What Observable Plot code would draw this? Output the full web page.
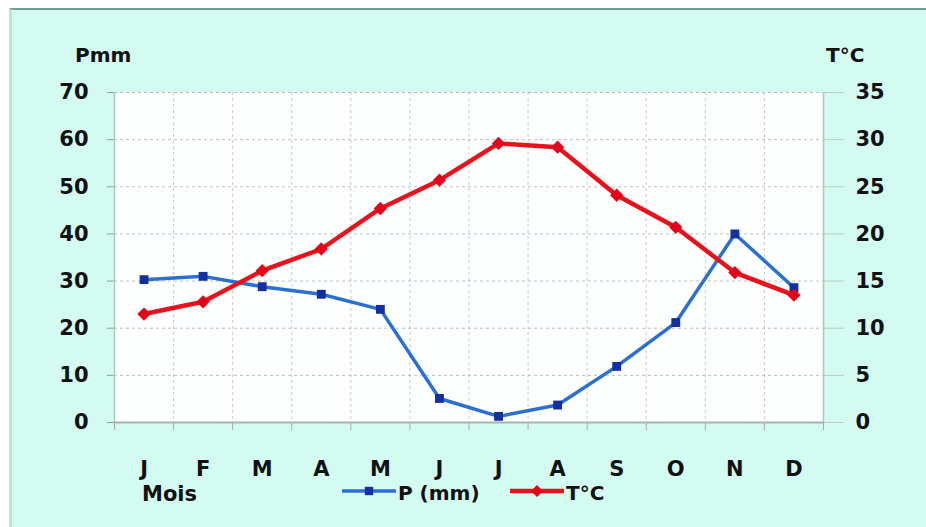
<!DOCTYPE html>
<html>
<head>
<meta charset="utf-8">
<script src="https://cdn.jsdelivr.net/npm/d3@7"></script>
<script src="https://cdn.jsdelivr.net/npm/@observablehq/plot@0.6"></script>
<style>
  body { margin: 0; background: #fff; }
  #wrap { position: relative; width: 926px; height: 527px; overflow: hidden; background: #fff; font-family: "DejaVu Sans", sans-serif; }
  #panel { position: absolute; left: 9px; top: 8px; right: 0; bottom: 0; background: #d3fbf2; border-top: 2px solid #6f9e94; border-left: 3px solid #b5e6db; }
  #chart, #overlay { position: absolute; left: 0; top: 0; }
  #overlay { pointer-events: none; }
</style>
</head>
<body>
<div id="wrap">
  <div id="panel"></div>
  <div id="chart"></div>
  <svg id="overlay" width="926" height="527"></svg>
</div>
<script>
// ---- data ----
const months = ["J","F","M","A","M","J","J","A","S","O","N","D"];
const precip = [30.3, 31.0, 28.8, 27.2, 24.0, 5.1, 1.3, 3.7, 11.9, 21.2, 40.0, 28.6]; // P (mm)
const temp   = [11.5, 12.8, 16.1, 18.4, 22.7, 25.7, 29.6, 29.2, 24.1, 20.7, 15.9, 13.5]; // T °C
const pTicks = [0, 10, 20, 30, 40, 50, 60, 70];
const tTicks = [0, 5, 10, 15, 20, 25, 30, 35];
const ratio = 2; // P = 2T
const seriesNames = ["P (mm)", "T°C"];
const colors = { p: "#2a6fd2", pMark: "#12309e", t: "#e8121c", tMark: "#e3061a" };

const rows = months.map((m, i) => ({ i, m, p: precip[i], t: temp[i] }));
const idx = d3.range(months.length);
const bounds = d3.range(months.length + 1).map(k => k - 0.5);

const font = { fontSize: 21, fontWeight: "bold", fill: "#111" };

const chart = Plot.plot({
  width: 926,
  height: 527,
  marginLeft: 114,
  marginRight: 103,
  marginTop: 92,
  marginBottom: 105,
  style: { background: "transparent", fontFamily: "DejaVu Sans, sans-serif", overflow: "visible" },
  x: { type: "linear", domain: [-0.5, months.length - 0.5] },
  y: { domain: [0, 70] },
  marks: [
    Plot.frame({ fill: "#fdfefe", stroke: "none" }),
    Plot.gridX(bounds.slice(1, -1), { stroke: "#9a9a9a", strokeOpacity: 0.5, strokeDasharray: "3,3" }),
    Plot.gridY(pTicks.slice(1), { stroke: "#8a8a8a", strokeOpacity: 0.55, strokeDasharray: "3,3" }),
    Plot.ruleX([bounds[0], bounds[bounds.length - 1]], { stroke: "#b8c4c0", strokeWidth: 1.5 }),
    Plot.axisY(pTicks, { anchor: "left", tickSize: 7, tickPadding: 19, stroke: "#999", ...font, label: null }),
    Plot.axisY(tTicks.map(t => t * ratio), { anchor: "right", tickSize: 20, tickPadding: 12, stroke: "#aaa", strokeOpacity: 0.6, tickFormat: d => d / ratio, ...font, label: null }),
    Plot.axisX(bounds, { tickSize: 8, stroke: "#aaa", tickFormat: () => "", label: null }),
    Plot.axisX(idx, { tickSize: 0, tickPadding: 39, tickFormat: i => months[i], ...font, label: null }),
    Plot.ruleY([0], { stroke: "#a9b3b0", strokeWidth: 2 }),
    Plot.line(rows, { x: "i", y: "p", stroke: colors.p, strokeWidth: 3.5 }),
    Plot.dot(rows, { x: "i", y: "p", symbol: "square", r: 5, fill: colors.pMark, stroke: "none" }),
    Plot.line(rows, { x: "i", y: d => d.t * ratio, stroke: colors.t, strokeWidth: 4.5 }),
    Plot.dot(rows, { x: "i", y: d => d.t * ratio, symbol: "diamond2", r: 6, fill: colors.tMark, stroke: "none" })
  ]
});
document.getElementById("chart").appendChild(chart);

// ---- titles and legend ----
const ov = d3.select("#overlay").attr("font-family", "DejaVu Sans, sans-serif").attr("font-weight", "bold").attr("fill", "#111");
ov.append("text").attr("x", 75).attr("y", 62).attr("font-size", 20).text("Pmm");
ov.append("text").attr("x", 826).attr("y", 62).attr("font-size", 20).text("T°C");
ov.append("text").attr("x", 142).attr("y", 501).attr("font-size", 21).text("Mois");

const leg = [
  { name: seriesNames[0], x: 342, line: colors.p, mark: colors.pMark, sym: d3.symbolSquare, size: 70, w: 3.5 },
  { name: seriesNames[1], x: 510, line: colors.t, mark: colors.tMark, sym: d3.symbolDiamond2, size: 90, w: 4.5 }
];
leg.forEach(l => {
  const g = ov.append("g");
  g.append("line").attr("x1", l.x).attr("x2", l.x + 54).attr("y1", 491).attr("y2", 491).attr("stroke", l.line).attr("stroke-width", l.w);
  g.append("path").attr("d", d3.symbol(l.sym, l.size)()).attr("transform", `translate(${l.x + 27},491)`).attr("fill", l.mark);
  g.append("text").attr("x", l.x + 56).attr("y", 500).attr("font-size", 20).text(l.name);
});
</script>
</body>
</html>
